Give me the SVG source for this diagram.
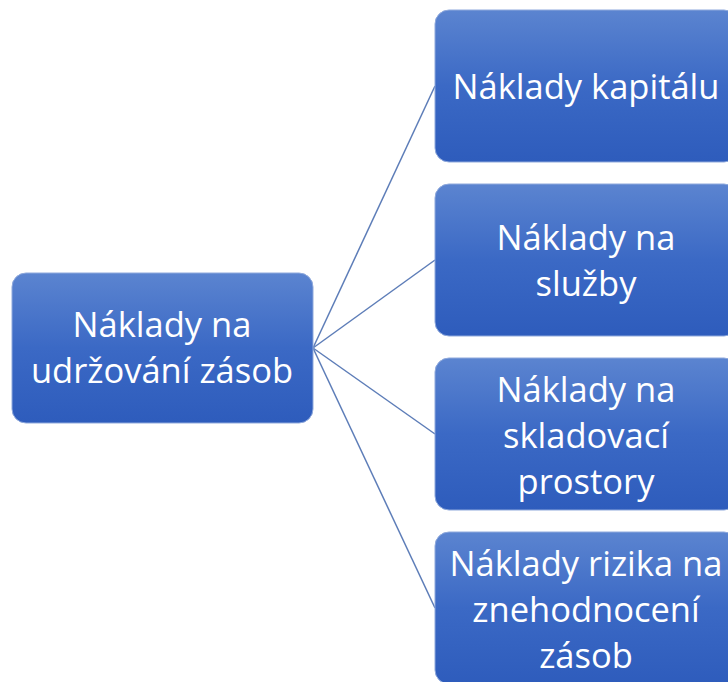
<svg xmlns="http://www.w3.org/2000/svg" width="728" height="682" viewBox="0 0 728 682">
<defs>
<linearGradient id="g" x1="0" y1="0" x2="0" y2="1">
<stop offset="0" stop-color="#5b84d0"/>
<stop offset="0.5" stop-color="#3b69c5"/>
<stop offset="1" stop-color="#2e5cbc"/>
</linearGradient>
<style>
.box{fill:url(#g);stroke:#8fa9dc;stroke-width:1}
.t{font-family:"Open Sans","Noto Sans",sans-serif;font-size:34.5px;fill:#ffffff;text-anchor:middle}
.c{stroke:#5d7db8;stroke-width:1.5;fill:none}
</style>
</defs>
<rect width="728" height="682" fill="#ffffff"/>
<g id="connectors">
<line class="c" x1="313" y1="348" x2="435" y2="86"/>
<line class="c" x1="313" y1="348" x2="435" y2="260"/>
<line class="c" x1="313" y1="348" x2="435" y2="434"/>
<line class="c" x1="313" y1="348" x2="435" y2="608"/>
</g>
<g id="root">
<rect class="box" x="12" y="273" width="301" height="150" rx="14"/>
<text class="t" x="162" y="337">Náklady na</text>
<text class="t" x="162" y="383">udržování zásob</text>
</g>
<g id="n1">
<rect class="box" x="435" y="10" width="303" height="152" rx="14"/>
<text class="t" x="586" y="99">Náklady kapitálu</text>
</g>
<g id="n2">
<rect class="box" x="435" y="184" width="303" height="152" rx="14"/>
<text class="t" x="586" y="250">Náklady na</text>
<text class="t" x="586" y="296">služby</text>
</g>
<g id="n3">
<rect class="box" x="435" y="358" width="303" height="152" rx="14"/>
<text class="t" x="586" y="402">Náklady na</text>
<text class="t" x="586" y="448">skladovací</text>
<text class="t" x="586" y="494">prostory</text>
</g>
<g id="n4">
<rect class="box" x="435" y="532" width="303" height="152" rx="14"/>
<text class="t" x="586" y="576">Náklady rizika na</text>
<text class="t" x="586" y="622">znehodnocení</text>
<text class="t" x="586" y="668">zásob</text>
</g>
</svg>
